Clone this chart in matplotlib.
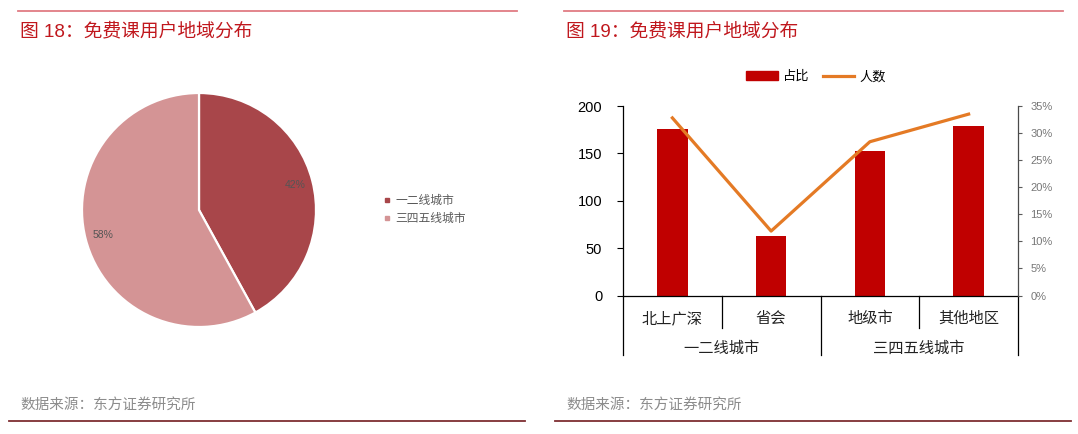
import matplotlib
matplotlib.use("Agg")
import matplotlib.pyplot as plt
from matplotlib.lines import Line2D
from matplotlib.patches import Patch
from matplotlib.ticker import PercentFormatter
from matplotlib.transforms import blended_transform_factory

plt.rcParams['font.family'] = ['Liberation Sans', 'Noto Sans CJK SC']

# left chart data
pie_labels = ['一二线城市', '三四五线城市']
pie_values = [42, 58]
pie_colors = ['#A8464A', '#D49495']

# right chart data
cities = ['北上广深', '省会', '地级市', '其他地区']
groups = ['一二线城市', '三四五线城市']
counts = [176, 63, 152, 179]
shares = [0.328, 0.119, 0.284, 0.335]

W, H = 1078, 434
fig = plt.figure(figsize=(W / 100, H / 100), dpi=100)


def fx(px):
    return px / W


def fy(py):
    return 1 - py / H


# header / footer decorations for both panels
title_red = '#C0171D'
for x0, x1, tx, num in [(18, 517, 20, '18'), (564, 1063, 566, '19')]:
    fig.add_artist(Line2D([fx(x0), fx(x1)], [fy(10.5), fy(10.5)], color='#E07C84', lw=1.3))
    fig.text(fx(tx), fy(31), f'图 {num}：免费课用户地域分布', color=title_red,
             fontsize=13.5, va='center', ha='left')
for x0, x1, tx in [(9, 525, 20), (555, 1071, 566)]:
    fig.add_artist(Line2D([fx(x0), fx(x1)], [fy(420.5), fy(420.5)], color='#7E2E32', lw=1.3))
    fig.text(fx(tx), fy(405), '数据来源：东方证券研究所', color='#8C8C8C',
             fontsize=10.5, va='center', ha='left')

# ---- pie chart ----
cx, cy, r = 199, 210, 117
ax1 = fig.add_axes([fx(cx - r), fy(cy + r), 2 * r / W, 2 * r / H])
wedges, _, autotexts = ax1.pie(pie_values, colors=pie_colors, startangle=90,
                               counterclock=False, autopct='%d%%', pctdistance=0.85,
                               wedgeprops=dict(edgecolor='white', linewidth=1.6))
for t in autotexts:
    t.set_fontsize(7.5)
    t.set_color('#555555')
ax1.set_xlim(-1, 1)
ax1.set_ylim(-1, 1)
ax1.set_aspect('auto')
ax1.axis('off')

pie_handles = [Line2D([], [], marker='s', ms=2.5, ls='none', color=c) for c in pie_colors]
fig.legend(pie_handles, pie_labels, loc='center left', bbox_to_anchor=(fx(378), fy(210)),
           frameon=False, fontsize=8.5, handlelength=0.6, handletextpad=0.4,
           labelspacing=0.55, borderpad=0, labelcolor='#595959')

# ---- bar + line chart ----
left, right, top, bottom = 623, 1018, 106, 295.5
ax = fig.add_axes([fx(left), fy(bottom), (right - left) / W, (bottom - top) / H])
x = list(range(len(cities)))
ax.bar(x, counts, width=0.31, color='#C00000', zorder=2)
ax.set_xlim(-0.5, len(cities) - 0.5)
ax.set_ylim(0, 200)
ax.set_yticks(range(0, 201, 50))
ax.tick_params(axis='y', labelsize=10.5, length=4, width=0.8, pad=11, direction='out')
ax.set_xticks([])
ax.spines['top'].set_visible(False)
ax.spines['right'].set_visible(False)
ax.spines['left'].set_linewidth(0.9)
ax.spines['bottom'].set_linewidth(0.9)

ax2 = ax.twinx()
ax2.plot(x, shares, color='#E47A25', lw=2.3, zorder=3)
ax2.set_ylim(0, 0.35)
ax2.set_yticks([i * 0.05 for i in range(8)])
ax2.yaxis.set_major_formatter(PercentFormatter(1.0, decimals=0))
ax2.tick_params(axis='y', labelsize=8, length=3, width=0.8, pad=6,
                colors='#5A5A5A', labelcolor='#777777')
for s in ['top', 'left', 'bottom']:
    ax2.spines[s].set_visible(False)
ax2.spines['right'].set_color('#4A4A4A')
ax2.spines['right'].set_linewidth(0.9)

# two-level category axis
tr = blended_transform_factory(ax.transData, ax.transAxes)
for xs in [0.5, 2.5]:
    ax.plot([xs, xs], [0, -0.17], transform=tr, color='black', lw=0.9, clip_on=False)
for xs in [-0.5, 1.5, 3.5]:
    ax.plot([xs, xs], [0, -0.315], transform=tr, color='black', lw=0.9, clip_on=False)
for i, c in enumerate(cities):
    ax.text(i, -0.122, c, transform=tr, ha='center', va='center', fontsize=11, color='#222222')
for i, g in enumerate(groups):
    ax.text(2 * i + 0.5, -0.28, g, transform=tr, ha='center', va='center', fontsize=11,
            color='#222222')

handles = [Patch(color='#C00000'), Line2D([], [], color='#E47A25', lw=2.3)]
fig.legend(handles, ['占比', '人数'], loc='center', bbox_to_anchor=(fx(816), fy(77)),
           ncol=2, frameon=False, fontsize=9.5, handlelength=2.4, handleheight=0.6,
           handletextpad=0.4, columnspacing=1.0, borderpad=0)

fig.savefig('out.png', dpi=100, facecolor='white')
